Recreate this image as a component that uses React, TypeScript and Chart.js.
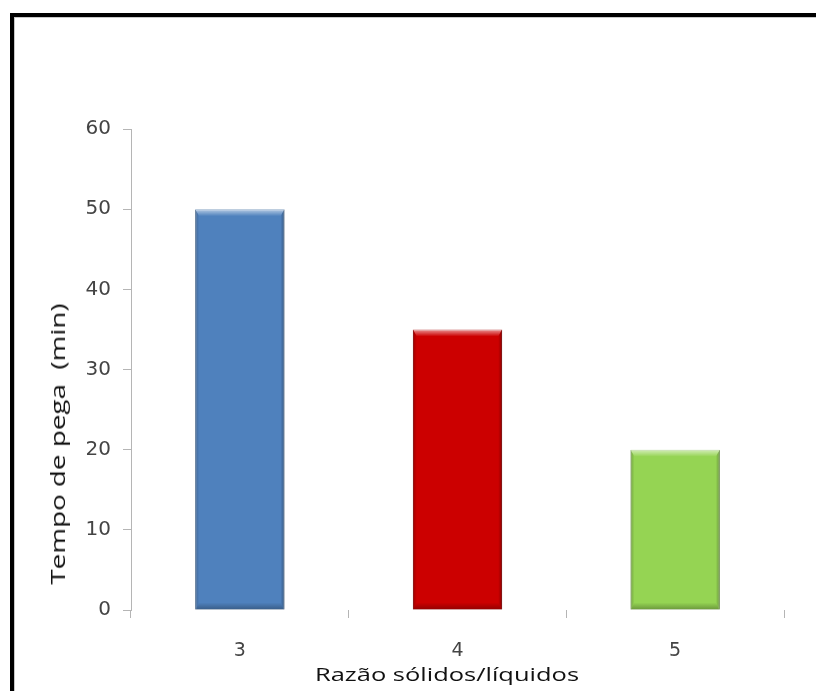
import React, { useEffect, useRef } from "react";
import { Chart, registerables } from "chart.js";

Chart.register(...registerables);

// Setting time per solids/liquids ratio
const categories = ["3", "4", "5"];
const setTimes = [50, 35, 20];
const barColors = ["#4F81BD", "#CC0000", "#95D453"];
const barEdges = ["#3A6A9E", "#A30000", "#75B03B"];
const yTickMin = 0;
const yTickMax = 60;
const yTickStep = 10;
const xTitle = "Razão sólidos/líquidos";
const yTitle = "Tempo de pega  (min)";

const TITLE_FONT = "'Open Sans', 'Noto Sans', sans-serif";
const TICK_FONT = "'DejaVu Sans', sans-serif";
const AXIS_GRAY = "#b5b5b5";

// Soft bevel on each bar: bright top lip, shaded sides and bottom
const bevelPlugin = {
  id: "bevel",
  afterDatasetsDraw(chart: any) {
    const ctx = chart.ctx as CanvasRenderingContext2D;
    const meta = chart.getDatasetMeta(0);
    meta.data.forEach((bar: any) => {
      const { x, y, base, width } = bar.getProps(["x", "y", "base", "width"], true);
      const l = x - width / 2;
      const r = x + width / 2;
      const t = Math.min(y, base);
      const b = Math.max(y, base);
      const e = 7;
      const s = 4;
      ctx.save();

      let g = ctx.createLinearGradient(0, t, 0, t + e);
      g.addColorStop(0, "rgba(255,255,255,0.6)");
      g.addColorStop(0.5, "rgba(255,255,255,0.3)");
      g.addColorStop(1, "rgba(255,255,255,0)");
      ctx.fillStyle = g;
      ctx.beginPath();
      ctx.moveTo(l, t);
      ctx.lineTo(r, t);
      ctx.lineTo(r - s, t + e);
      ctx.lineTo(l + s, t + e);
      ctx.closePath();
      ctx.fill();

      g = ctx.createLinearGradient(0, b - e, 0, b);
      g.addColorStop(0, "rgba(0,0,0,0)");
      g.addColorStop(1, "rgba(0,0,0,0.28)");
      ctx.fillStyle = g;
      ctx.beginPath();
      ctx.moveTo(l, b);
      ctx.lineTo(r, b);
      ctx.lineTo(r - s, b - e);
      ctx.lineTo(l + s, b - e);
      ctx.closePath();
      ctx.fill();

      g = ctx.createLinearGradient(l, 0, l + s, 0);
      g.addColorStop(0, "rgba(0,0,0,0.22)");
      g.addColorStop(1, "rgba(0,0,0,0)");
      ctx.fillStyle = g;
      ctx.beginPath();
      ctx.moveTo(l, t);
      ctx.lineTo(l + s, t + e);
      ctx.lineTo(l + s, b - e);
      ctx.lineTo(l, b);
      ctx.closePath();
      ctx.fill();

      g = ctx.createLinearGradient(r, 0, r - s, 0);
      g.addColorStop(0, "rgba(0,0,0,0.3)");
      g.addColorStop(1, "rgba(0,0,0,0)");
      ctx.fillStyle = g;
      ctx.beginPath();
      ctx.moveTo(r, t);
      ctx.lineTo(r - s, t + e);
      ctx.lineTo(r - s, b - e);
      ctx.lineTo(r, b);
      ctx.closePath();
      ctx.fill();

      ctx.restore();
    });
  },
};

export default function App() {
  const canvasRef = useRef<HTMLCanvasElement | null>(null);

  useEffect(() => {
    const canvas = canvasRef.current;
    if (!canvas) return;
    const chart = new Chart(canvas, {
      type: "bar",
      data: {
        labels: categories,
        datasets: [
          {
            data: setTimes,
            backgroundColor: barColors,
            borderColor: barEdges,
            borderWidth: 1,
            barPercentage: 0.41,
            categoryPercentage: 1,
          },
        ],
      },
      options: {
        responsive: false,
        animation: false,
        layout: { padding: { top: 129, right: 32, bottom: 0, left: 0 } },
        plugins: {
          legend: { display: false },
          tooltip: { enabled: false },
          title: { display: false },
        },
        scales: {
          x: {
            grid: {
              display: true,
              drawOnChartArea: false,
              drawTicks: true,
              tickLength: 8,
              offset: true,
              color: AXIS_GRAY,
              tickColor: AXIS_GRAY,
            },
            border: { display: false },
            ticks: {
              padding: 22,
              color: "#444444",
              font: { family: TICK_FONT, size: 19 },
            },
            afterFit: (s: any) => {
              s.height = 81;
            },
          },
          y: {
            min: yTickMin,
            max: yTickMax,
            ticks: {
              stepSize: yTickStep,
              padding: 12,
              color: "#444444",
              font: { family: TICK_FONT, size: 20 },
            },
            grid: {
              drawOnChartArea: false,
              tickLength: 8,
              color: AXIS_GRAY,
              tickColor: AXIS_GRAY,
            },
            border: { display: true, color: AXIS_GRAY, width: 1 },
            afterFit: (s: any) => {
              s.width = 131;
            },
          },
        },
      },
      plugins: [bevelPlugin],
    });
    return () => chart.destroy();
  }, []);

  return (
    <div
      style={{
        position: "fixed",
        left: 0,
        top: 0,
        width: 816,
        height: 691,
        overflow: "hidden",
        background: "#ffffff",
      }}
    >
      <div
        style={{
          position: "absolute",
          left: 10,
          top: 13,
          width: 900,
          height: 800,
          borderLeft: "4px solid #000",
          borderTop: "4px solid #000",
          boxShadow: "inset 1px 1px 0 #c8c8c8",
        }}
      />
      <canvas
        ref={canvasRef}
        width={816}
        height={691}
        style={{ position: "absolute", left: 0, top: 0, width: 816, height: 691 }}
      />
      <div
        style={{
          position: "absolute",
          left: 447,
          top: 674,
          transform: "translate(-50%, -50%) scaleX(1.34)",
          fontFamily: TITLE_FONT,
          fontSize: 19,
          color: "#111",
          whiteSpace: "pre",
          lineHeight: 1,
        }}
      >
        {xTitle}
      </div>
      <div
        style={{
          position: "absolute",
          left: 58,
          top: 444,
          transform: "translate(-50%, -50%) rotate(-90deg) scaleX(1.39)",
          fontFamily: TITLE_FONT,
          fontSize: 20,
          color: "#111",
          whiteSpace: "pre",
          lineHeight: 1,
        }}
      >
        {yTitle}
      </div>
    </div>
  );
}
